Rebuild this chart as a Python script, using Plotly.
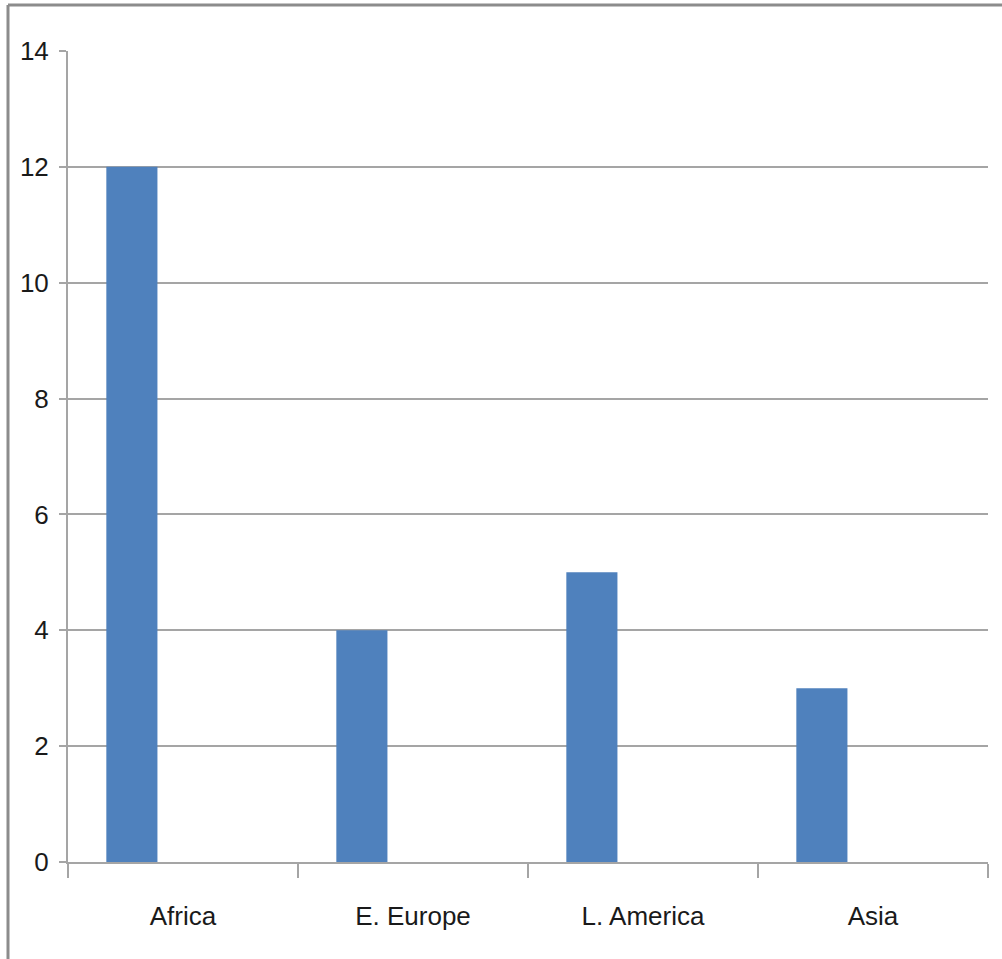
import plotly.graph_objects as go

categories = ["Africa", "E. Europe", "L. America", "Asia"]
values = [12, 4, 5, 3]
y_ticks = [0, 2, 4, 6, 8, 10, 12, 14]

W, H = 1002, 959
ML, MR, MT, MB = 68, 14, 51, 97
pw = W - ML - MR
ph = H - MT - MB

grid = "#a5a5a5"
border = "#8c8c8c"
font_family = "Liberation Sans Narrow, Arial Narrow, Liberation Sans, sans-serif"

fig = go.Figure()
fig.add_trace(go.Bar(
    x=categories, y=values,
    marker=dict(color="#4f81bd", line=dict(width=0)),
    width=1 / 4.5, offset=-0.5 + 0.75 / 4.5,
))

# paper coords for the outer frame (left at px 8, top at px 5)
bx = (8 - ML) / pw
by = 1 + (MT - 5) / ph
bbot = -(MB + 5) / ph
bright = 1 + (MR + 5) / pw

fig.update_layout(
    width=W, height=H,
    margin=dict(l=ML, r=MR, t=MT, b=MB),
    paper_bgcolor="white", plot_bgcolor="white",
    showlegend=False,
    font=dict(family=font_family, size=26, color="#1a1a1a"),
    xaxis=dict(
        type="category", range=[-0.5, 3.5], tickson="boundaries",
        ticks="outside", ticklen=14, tickwidth=2, tickcolor=grid,
        showline=True, linecolor=grid, linewidth=2,
        showgrid=False, ticklabelstandoff=30,
        tickfont=dict(family=font_family, size=26),
    ),
    yaxis=dict(
        range=[0, 14], tickvals=y_ticks,
        ticks="outside", ticklen=7, tickwidth=2, tickcolor=grid,
        showline=True, linecolor=grid, linewidth=2,
        showgrid=True, gridcolor=grid, gridwidth=2,
        zeroline=False, ticklabelstandoff=5,
        tickfont=dict(family=font_family, size=26),
    ),
    shapes=[
        dict(type="line", xref="paper", yref="paper",
             x0=bx, x1=bx, y0=bbot, y1=by,
             line=dict(color=border, width=3)),
        dict(type="line", xref="paper", yref="paper",
             x0=bx, x1=bright, y0=by, y1=by,
             line=dict(color=border, width=3)),
    ],
)

fig.write_html("out.html", config={"displayModeBar": False},
               post_script="document.body.style.margin='0px';")
